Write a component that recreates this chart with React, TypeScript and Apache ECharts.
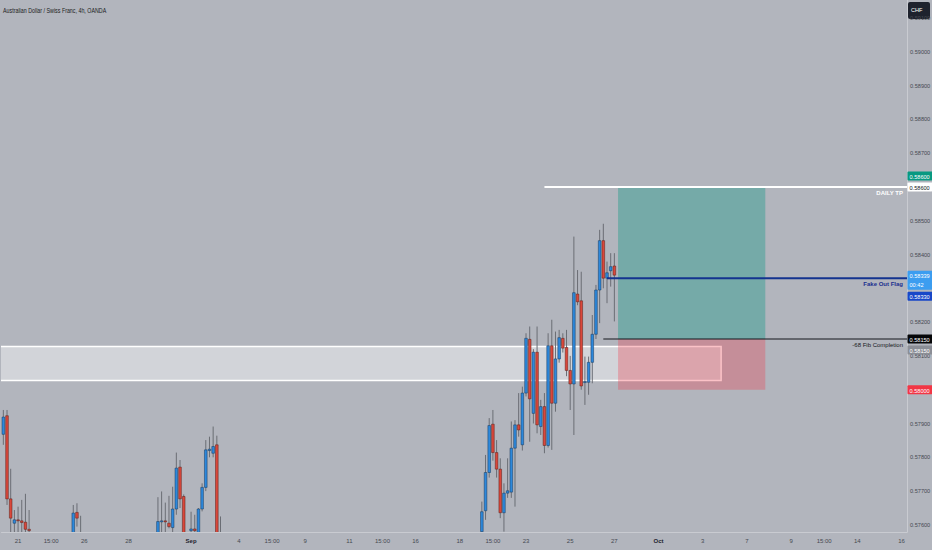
import { useEffect, useRef } from 'react';
import * as echarts from 'echarts';

const BG = '#b2b5bd';
const FONT = "'Liberation Sans Narrow', 'Liberation Sans', Arial, sans-serif";
const TITLE = 'Australian Dollar / Swiss Franc, 4h, OANDA';
const CURRENCY = 'CHF';

/** 4h 槽位数（含右侧空白区）。 */
const SLOT_COUNT = 246;
const Y_MIN = 0.57579;
const Y_MAX = 0.59153;

/** K 线：[槽位, 开, 高, 低, 收] */
const candles: [number, number, number, number, number][] = [
  [0, 0.57868, 0.5794, 0.57837, 0.57919],
  [1, 0.57923, 0.5794, 0.57659, 0.57677],
  [2, 0.57677, 0.57766, 0.5756, 0.5762],
  [3, 0.57605, 0.57644, 0.5756, 0.57615],
  [4, 0.57615, 0.57654, 0.5756, 0.57612],
  [5, 0.57612, 0.57674, 0.5756, 0.57607],
  [6, 0.57608, 0.57692, 0.5756, 0.57587],
  [7, 0.57587, 0.57644, 0.5756, 0.57583],
  [19, 0.5756, 0.57659, 0.5754, 0.57635],
  [20, 0.57637, 0.57664, 0.57595, 0.5762],
  [21, 0.5757, 0.57627, 0.575, 0.5755],
  [42, 0.5756, 0.57682, 0.5754, 0.5761],
  [43, 0.5761, 0.57699, 0.5756, 0.57612],
  [44, 0.57612, 0.57666, 0.5756, 0.5761],
  [45, 0.57605, 0.57686, 0.5759, 0.57595],
  [46, 0.57592, 0.57713, 0.5756, 0.57647],
  [47, 0.57647, 0.57814, 0.5763, 0.57768],
  [48, 0.57771, 0.57792, 0.5765, 0.57677],
  [49, 0.57684, 0.5769, 0.5754, 0.5756],
  [50, 0.5756, 0.5757, 0.575, 0.5755],
  [51, 0.57583, 0.57639, 0.5756, 0.57588],
  [52, 0.57588, 0.5763, 0.5756, 0.57583],
  [53, 0.5756, 0.5765, 0.5754, 0.57647],
  [54, 0.57647, 0.57723, 0.5764, 0.57711],
  [55, 0.57711, 0.57851, 0.577, 0.57822],
  [56, 0.5782, 0.57861, 0.578, 0.57824],
  [57, 0.57812, 0.57891, 0.578, 0.57832],
  [58, 0.57837, 0.57864, 0.5754, 0.5756],
  [59, 0.5756, 0.57625, 0.575, 0.5755],
  [130, 0.5758, 0.57669, 0.5756, 0.57639],
  [131, 0.57642, 0.57807, 0.57615, 0.57755],
  [132, 0.57755, 0.57916, 0.5774, 0.57894],
  [133, 0.57898, 0.5794, 0.5779, 0.57814],
  [134, 0.57814, 0.57851, 0.5774, 0.57765],
  [135, 0.57765, 0.57797, 0.5762, 0.57636],
  [136, 0.57636, 0.57723, 0.5758, 0.57694],
  [137, 0.57694, 0.57797, 0.5768, 0.57701],
  [138, 0.57697, 0.57906, 0.5768, 0.57827],
  [139, 0.57827, 0.5791, 0.57654, 0.57896],
  [140, 0.57896, 0.5799, 0.57861, 0.57881],
  [141, 0.57837, 0.58009, 0.5782, 0.5799],
  [142, 0.5799, 0.58167, 0.5798, 0.58152],
  [143, 0.58149, 0.58187, 0.57846, 0.57973],
  [144, 0.5793, 0.5812, 0.579, 0.58111],
  [145, 0.58111, 0.58187, 0.57871, 0.57896],
  [146, 0.57891, 0.5797, 0.57866, 0.5795],
  [147, 0.5795, 0.5799, 0.57812, 0.57835],
  [148, 0.57835, 0.58167, 0.57829, 0.5813],
  [149, 0.5813, 0.58207, 0.57822, 0.5796],
  [150, 0.5796, 0.58172, 0.57935, 0.58091],
  [151, 0.58091, 0.58177, 0.5808, 0.58154],
  [152, 0.58152, 0.58167, 0.5811, 0.58123],
  [153, 0.58125, 0.58177, 0.5804, 0.58057],
  [154, 0.58057, 0.581, 0.5794, 0.58017],
  [155, 0.58017, 0.58453, 0.57866, 0.58287],
  [156, 0.58283, 0.58354, 0.5825, 0.5826],
  [157, 0.58263, 0.58349, 0.58, 0.58011],
  [158, 0.58022, 0.58098, 0.57955, 0.58024],
  [159, 0.58022, 0.58098, 0.57985, 0.58081],
  [160, 0.58081, 0.58221, 0.58019, 0.58164],
  [161, 0.58164, 0.5831, 0.5815, 0.58295],
  [162, 0.58295, 0.58473, 0.58197, 0.58441],
  [163, 0.58441, 0.58491, 0.583, 0.5833],
  [164, 0.5833, 0.58379, 0.58256, 0.58346],
  [165, 0.58352, 0.58404, 0.58305, 0.58364],
  [166, 0.58366, 0.58404, 0.58202, 0.58339],
];

/** 时间轴刻度：[槽位, 文本] */
const timeTicks: [number, string][] = [
  [4, '21'], [13, '15:00'], [22, '26'], [34, '28'], [51, 'Sep'], [64, '4'],
  [73, '15:00'], [82, '9'], [94, '11'], [103, '15:00'], [112, '16'], [124, '18'],
  [133, '15:00'], [142, '23'], [154, '25'], [166, '27'], [178, 'Oct'], [190, '3'],
  [202, '7'], [214, '9'], [223, '15:00'], [232, '14'], [244, '16'],
];

const lastPrice = 0.58339;
const countdown = '00:42';

/** 需求区（白色矩形） */
const zoneSlots = [0, 195];
const zonePrices = [0.58128, 0.58027];

/** 多头仓位工具：目标 / 入场 / 止损 */
const positionSlots = [167, 207];
const positionPrices = [0.586, 0.5815, 0.58];

/** 手绘水平线 */
const lineSlots = [147, 164, 163];
const linePrices = [0.586, 0.5833, 0.5815];
const lineTexts = ['DAILY TP', 'Fake Out Flag', '-68 Fib Completion'];

/** 价格轴标签 */
const tagPrices = [0.586, 0.586, lastPrice, 0.5833, 0.5815, 0.5815, 0.58];
const tagTexts = ['0.58600', '0.58600', `0.58339\n${countdown}`, '0.58330', '0.58150', '0.58150', '0.58000'];

const lineLooks = [
  { stroke: '#ffffff', width: 2, text: '#ffffff', weight: 'bold' },
  { stroke: '#13338f', width: 2, text: '#1a2f8f', weight: 'bold' },
  { stroke: '#15171c', width: 1, text: '#15171c', weight: 'normal' },
];
const tagLooks = [
  { bg: '#089981', fg: '#ffffff', dy: -11 },
  { bg: '#ffffff', fg: '#131722', dy: 0 },
  { bg: '#3c9df0', fg: '#ffffff', dy: 0 },
  { bg: '#1847c8', fg: '#ffffff', dy: 18 },
  { bg: '#050608', fg: '#ffffff', dy: 0 },
  { bg: '#8b8e96', fg: '#ffffff', dy: 11 },
  { bg: '#f23645', fg: '#ffffff', dy: 0 },
];

const UP = '#2d88db';
const DOWN = '#d9473b';

function buildOption() {
  const slots = Array.from({ length: SLOT_COUNT }, (_, i) => String(i));
  const tickMap = new Map(timeTicks);
  // 被价格标签盖住的刻度不显示
  const covered = (v: number) => tagPrices.some((p) => Math.abs(p - v) < 0.0004);

  return {
    animation: false,
    backgroundColor: BG,
    textStyle: { fontFamily: FONT },
    grid: { left: 1.5, right: 25, top: 0, bottom: 18, outerBoundsMode: 'none' },
    xAxis: {
      type: 'category',
      data: slots,
      boundaryGap: true,
      axisLine: { show: true, lineStyle: { color: '#c9cbd1', width: 1 } },
      axisTick: { show: false },
      splitLine: { show: false },
      axisLabel: {
        interval: (i: number) => tickMap.has(i),
        formatter: (v: string) => {
          const t = tickMap.get(Number(v)) ?? '';
          return t === 'Sep' || t === 'Oct' ? `{b|${t}}` : t;
        },
        fontSize: 6,
        color: '#464951',
        margin: 6,
        fontFamily: FONT,
        rich: { b: { fontSize: 6, fontWeight: 'bold', color: '#1e222d', fontFamily: FONT } },
      },
    },
    yAxis: {
      type: 'value',
      position: 'right',
      min: Y_MIN,
      max: Y_MAX,
      minInterval: 0.001,
      maxInterval: 0.001,
      splitNumber: 15,
      axisLine: { show: true, lineStyle: { color: '#c9cbd1' } },
      axisTick: { show: false },
      splitLine: { show: false },
      axisLabel: {
        showMinLabel: false,
        showMaxLabel: false,
        formatter: (v: number) => (covered(v) ? '' : v.toFixed(5)),
        fontSize: 5.6,
        color: '#464951',
        margin: 3,
        fontFamily: FONT,
      },
    },
    graphic: [
      {
        type: 'text',
        x: 3,
        y: 7,
        scaleX: 0.82,
        style: { text: TITLE, fontSize: 6.5, fill: '#1c1d22', fontFamily: FONT },
      },
      { type: 'rect', right: 2, top: 2, shape: { width: 22, height: 17, r: 2 }, style: { fill: '#1e222d' } },
      { type: 'text', left: 911, top: 7, style: { text: CURRENCY, fontSize: 5.6, fill: '#ffffff', fontFamily: FONT } },
    ],
    series: [
      {
        type: 'custom',
        name: 'zone',
        silent: true,
        clip: true,
        z: 1,
        data: [[zoneSlots[0], zonePrices[0]]],
        renderItem: (_p: any, api: any) => {
          const band = api.size([1, 0])[0];
          const a = api.coord([zoneSlots[0], zonePrices[0]]);
          const b = api.coord([zoneSlots[1], zonePrices[1]]);
          const x0 = a[0] - band;
          return {
            type: 'rect',
            shape: { x: x0, y: a[1], width: b[0] - x0, height: b[1] - a[1] },
            style: { fill: 'rgba(255,255,255,0.42)', stroke: '#ffffff', lineWidth: 1.5 },
          };
        },
      },
      {
        type: 'custom',
        name: 'position',
        silent: true,
        z: 2,
        data: [[positionSlots[0], positionPrices[0]]],
        renderItem: (_p: any, api: any) => {
          const t = api.coord([positionSlots[0], positionPrices[0]]);
          const e = api.coord([positionSlots[1], positionPrices[1]]);
          const s = api.coord([positionSlots[1], positionPrices[2]]);
          const w = e[0] - t[0];
          return {
            type: 'group',
            children: [
              { type: 'rect', shape: { x: t[0], y: t[1], width: w, height: e[1] - t[1] }, style: { fill: 'rgba(8,153,129,0.36)' } },
              { type: 'rect', shape: { x: t[0], y: e[1], width: w, height: s[1] - e[1] }, style: { fill: 'rgba(242,54,69,0.3)' } },
            ],
          };
        },
      },
      {
        type: 'custom',
        name: 'AUDCHF',
        silent: true,
        clip: true,
        z: 3,
        data: candles,
        encode: { x: 0, y: [1, 2, 3, 4] },
        renderItem: (_p: any, api: any) => {
          const i = api.value(0);
          const o = api.value(1);
          const h = api.value(2);
          const l = api.value(3);
          const c = api.value(4);
          const hi = api.coord([i, h]);
          const lo = api.coord([i, l]);
          const po = api.coord([i, o]);
          const pc = api.coord([i, c]);
          const w = api.size([1, 0])[0] * 0.72;
          const top = Math.min(po[1], pc[1]);
          const ht = Math.max(Math.abs(po[1] - pc[1]), 1);
          const up = c >= o;
          return {
            type: 'group',
            children: [
              { type: 'line', shape: { x1: hi[0], y1: hi[1], x2: lo[0], y2: lo[1] }, style: { stroke: '#6a6d74', lineWidth: 1 } },
              {
                type: 'rect',
                shape: { x: hi[0] - w / 2, y: top, width: w, height: ht },
                style: { fill: up ? UP : DOWN, stroke: up ? '#17385c' : '#5a1e18', lineWidth: 0.5 },
              },
            ],
          };
        },
      },
      {
        type: 'custom',
        name: 'lines',
        silent: true,
        z: 4,
        data: lineSlots.map((s, i) => [s, linePrices[i]]),
        renderItem: (params: any, api: any) => {
          const k = params.dataIndex;
          const look = lineLooks[k];
          const p = api.coord([lineSlots[k], linePrices[k]]);
          const xEnd = params.coordSys.x + params.coordSys.width;
          return {
            type: 'group',
            children: [
              { type: 'line', shape: { x1: p[0], y1: p[1], x2: xEnd, y2: p[1] }, style: { stroke: look.stroke, lineWidth: look.width } },
              {
                type: 'text',
                x: xEnd - 4,
                y: p[1] + 3,
                style: {
                  text: lineTexts[k],
                  fill: look.text,
                  fontSize: 6,
                  fontWeight: look.weight,
                  fontFamily: FONT,
                  align: 'right',
                  verticalAlign: 'top',
                },
              },
            ],
          };
        },
      },
      {
        type: 'custom',
        name: 'tags',
        silent: true,
        clip: false,
        z: 10,
        data: tagPrices.map((p) => [0, p]),
        renderItem: (params: any, api: any) => {
          const k = params.dataIndex;
          const look = tagLooks[k];
          const rows = tagTexts[k].split('\n').length;
          const y = api.coord([0, tagPrices[k]])[1] + look.dy;
          const x = params.coordSys.x + params.coordSys.width;
          const top = y - 4.5;
          return {
            type: 'group',
            children: [
              { type: 'rect', shape: { x: x + 0.5, y: top, width: 25, height: 9 * rows + (rows > 1 ? 1 : 0), r: 1 }, style: { fill: look.bg } },
              {
                type: 'text',
                x: x + 2.5,
                y: top + 0.8,
                style: {
                  text: tagTexts[k],
                  fill: look.fg,
                  fontSize: 5.6,
                  lineHeight: 9,
                  fontFamily: FONT,
                  verticalAlign: 'top',
                },
              },
            ],
          };
        },
      },
    ],
  };
}

export default function App() {
  const ref = useRef<HTMLDivElement>(null);

  useEffect(() => {
    document.body.style.margin = '0';
    if (!ref.current) return;
    const chart = echarts.init(ref.current, null, { renderer: 'svg' });
    chart.setOption(buildOption() as any);
    return () => chart.dispose();
  }, []);

  return <div ref={ref} style={{ width: 932, height: 550, background: BG }} />;
}
